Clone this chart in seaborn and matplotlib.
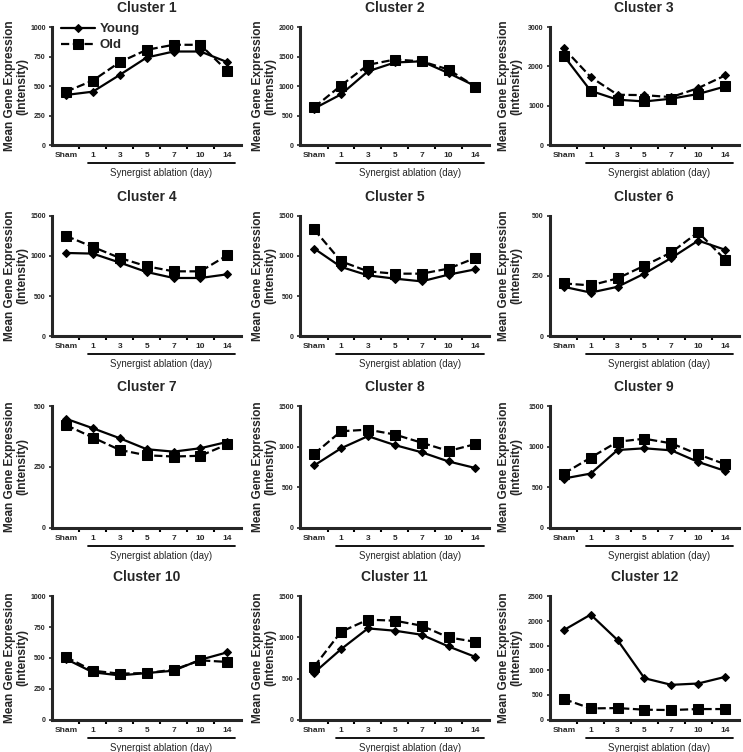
import matplotlib
matplotlib.use("Agg")

import matplotlib.pyplot as plt  # noqa: E402
import matplotlib.transforms as mtransforms  # noqa: E402
import pandas as pd  # noqa: E402
import seaborn as sns  # noqa: E402

# ── Data ─────────────────────────────────────────────────────────────────────
days = ["Sham", "1", "3", "5", "7", "10", "14"]
clusters = [f"Cluster {i}" for i in range(1, 13)]

young = [
    [425, 453, 595, 742, 793, 793, 703],
    [620, 860, 1250, 1400, 1420, 1220, 1000],
    [2460, 1730, 1280, 1270, 1220, 1450, 1770],
    [1037, 1029, 917, 800, 725, 725, 771],
    [1092, 863, 758, 717, 683, 767, 833],
    [205, 181, 205, 260, 325, 397, 359],
    [448, 409, 368, 323, 313, 327, 353],
    [769, 980, 1130, 1020, 931, 818, 737],
    [608, 669, 959, 980, 955, 812, 702],
    [492, 384, 359, 378, 397, 486, 546],
    [571, 857, 1110, 1082, 1033, 890, 763],
    [1815, 2130, 1613, 840, 706, 733, 867],
]
old = [
    [453, 547, 703, 807, 850, 850, 629],
    [640, 1010, 1360, 1450, 1420, 1280, 990],
    [2270, 1380, 1155, 1110, 1180, 1300, 1490],
    [1250, 1112, 975, 871, 808, 808, 1008],
    [1330, 933, 808, 779, 779, 842, 975],
    [219, 211, 240, 293, 348, 432, 318],
    [422, 371, 320, 298, 293, 296, 343],
    [911, 1190, 1210, 1150, 1049, 947, 1032],
    [669, 865, 1061, 1098, 1041, 906, 784],
    [508, 397, 373, 378, 405, 481, 468],
    [645, 1069, 1216, 1204, 1143, 1000, 947],
    [417, 228, 235, 202, 195, 215, 215],
]
y_max = [1000, 2000, 3000, 1500, 1500, 500, 500, 1500, 1500, 1000, 1500, 2500]
y_step = [250, 500, 1000, 500, 500, 250, 250, 500, 500, 250, 500, 500]
# in cluster 3 the original figure draws the diamonds with the dashed line
swapped_style = {"Cluster 3"}

# ── Style ────────────────────────────────────────────────────────────────────
sns.set_theme(style="ticks")
plt.rcParams["font.family"] = ["Liberation Sans", "DejaVu Sans"]
plt.rcParams["axes.linewidth"] = 2.2

fig = plt.figure(figsize=(7.43, 7.52), dpi=100)

col_left = [0.070, 0.404, 0.740]
label_x = [-0.125, -0.125, -0.145]   # right edge of the two-line y label
row_bottom = [0.807, 0.553, 0.298, 0.043]
row_height = [0.157, 0.160, 0.162, 0.164]
ax_width = 0.254

x_pos = list(range(len(days)))

for i, name in enumerate(clusters):
    r, c = divmod(i, 3)
    ax = fig.add_axes([col_left[c], row_bottom[r], ax_width, row_height[r]])

    df = pd.DataFrame({"x": x_pos * 2,
                       "value": young[i] + old[i],
                       "group": ["Young"] * 7 + ["Old"] * 7})
    young_ls, old_ls = ("--", "-") if name in swapped_style else ("-", "--")
    sns.lineplot(data=df[df.group == "Young"], x="x", y="value", ax=ax,
                 color="black", linewidth=1.6, linestyle=young_ls,
                 marker="D", markersize=4, markeredgecolor="black",
                 label="Young")
    sns.lineplot(data=df[df.group == "Old"], x="x", y="value", ax=ax,
                 color="black", linewidth=1.6, linestyle=old_ls,
                 marker="s", markersize=6.5, markeredgecolor="black",
                 label="Old")

    ax.set_xlim(-0.52, 6.5)
    ax.set_ylim(0, y_max[i])
    ax.set_yticks(range(0, y_max[i] + 1, y_step[i]))
    ax.set_xticks(x_pos)
    ax.set_xticklabels(days)
    ax.set_xticks([p + 0.5 for p in x_pos[:-1]], minor=True)
    ax.tick_params(axis="x", which="major", length=0, pad=5,
                   labelsize=6)
    ax.tick_params(axis="x", which="minor", length=3, width=1.5,
                   direction="out", color="black")
    ax.tick_params(axis="y", length=2.5, width=1.2, pad=2, labelsize=5)
    for lab in ax.get_xticklabels() + ax.get_yticklabels():
        lab.set_fontweight("bold")
    sns.despine(ax=ax)

    ax.set_xlabel("")
    ax.set_ylabel("Mean Gene Expression\n(Intensity)", fontsize=8.6,
                  fontweight="bold", linespacing=1.05)
    ax.yaxis.set_label_coords(label_x[c], 0.5)
    ax.set_title(name, fontsize=10, fontweight="bold", pad=11)

    # bracket for the ablation days
    trans = mtransforms.blended_transform_factory(ax.transData, ax.transAxes)
    ax.plot([0.81, 6.3], [-0.15, -0.15], color="black", linewidth=1.3,
            transform=trans, clip_on=False)
    ax.text(3.55, -0.19, "Synergist ablation (day)", transform=trans,
            ha="center", va="top", fontsize=7)

    if i == 0:
        ax.legend(loc="upper left", bbox_to_anchor=(0.02, 1.08), frameon=False,
                  handlelength=2.6, handletextpad=0.3,
                  labelspacing=0.3, borderaxespad=0,
                  prop={"weight": "bold", "size": 9.5})
    else:
        ax.get_legend().remove()

fig.savefig("out.png", dpi=100)
